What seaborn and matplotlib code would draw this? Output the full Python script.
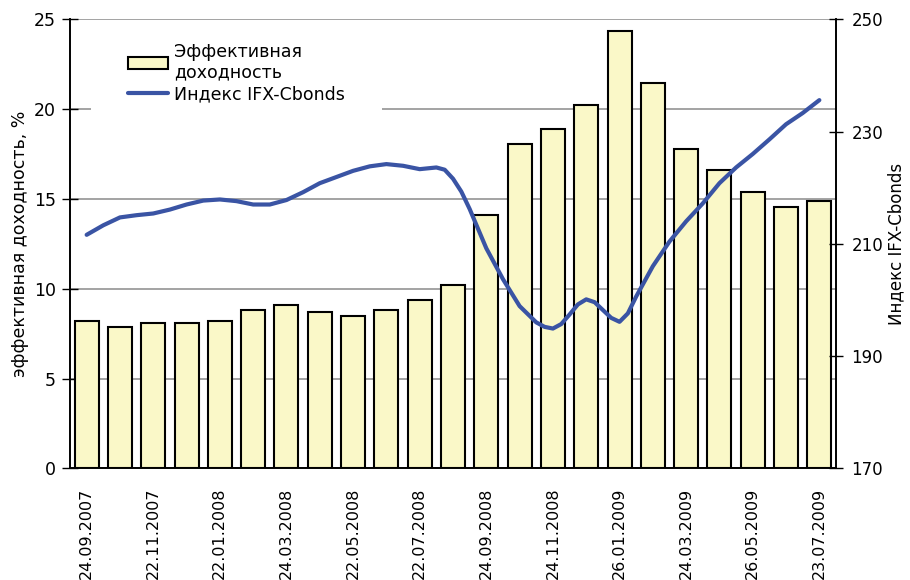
import matplotlib
matplotlib.use("Agg")
import matplotlib.pyplot as plt
import seaborn as sns
import numpy as np
import pandas as pd
from matplotlib.patches import Rectangle, Patch
from matplotlib.lines import Line2D

# ---------------- data ----------------
period = list(range(23))  # bar index (roughly monthly observations)
yields = [8.22, 7.88, 8.07, 8.07, 8.22, 8.83, 9.09, 8.69, 8.50, 8.83, 9.35, 10.2,
          14.12, 18.06, 18.87, 20.25, 24.33, 21.44, 17.78, 16.59, 15.39, 14.55, 14.89]

tick_positions = [0, 2, 4, 6, 8, 10, 12, 14, 16, 18, 20, 22]
tick_labels = ["24.09.2007", "22.11.2007", "22.01.2008", "24.03.2008", "22.05.2008",
               "22.07.2008", "24.09.2008", "24.11.2008", "26.01.2009", "24.03.2009",
               "26.05.2009", "23.07.2009"]

# IFX-Cbonds index (position on the bar-index axis, value)
index_pos = [0, 0.5, 1, 1.5, 2, 2.5, 3, 3.5, 4, 4.5, 5, 5.5, 6, 6.5, 7, 7.5, 8, 8.5,
             9, 9.5, 10, 10.5, 10.75, 11, 11.25, 11.5, 12, 12.5, 13, 13.5, 13.75, 14,
             14.25, 14.5, 14.75, 15, 15.25, 15.5, 15.75, 16, 16.25, 16.5, 17, 17.5,
             18, 18.5, 19, 19.5, 20, 20.5, 21, 21.5, 22]
index_values = [211.6, 213.3, 214.7, 215.1, 215.4, 216.1, 217.0, 217.7, 217.9, 217.6,
                217.0, 217.0, 217.8, 219.2, 220.8, 221.9, 223.0, 223.8, 224.2, 223.9,
                223.3, 223.6, 223.2, 221.6, 219.3, 216.2, 209.2, 203.7, 198.9, 196.0,
                195.2, 194.9, 195.7, 197.4, 199.2, 200.1, 199.6, 198.2, 196.8, 196.1,
                197.6, 200.6, 206.0, 210.4, 214.0, 217.2, 220.8, 223.6, 226.0, 228.6,
                231.3, 233.3, 235.6]

bar_color = "#FAF8C8"
line_color = "#3A54A4"
grid_color = "#9C9C9C"

# ---------------- figure ----------------
sns.set_theme(style="white")
plt.rcParams["font.family"] = ["DejaVu Sans"]
plt.rcParams["text.color"] = "black"
plt.rcParams["axes.labelcolor"] = "black"
plt.rcParams["xtick.color"] = "black"
plt.rcParams["ytick.color"] = "black"

fig = plt.figure(figsize=(9.1, 5.8), dpi=100)
ax = fig.add_axes([70 / 910, 1 - 468.3 / 580, 766 / 910, 449 / 580])

df = pd.DataFrame({"period": period, "yield": yields})
sns.barplot(data=df, x="period", y="yield", color=bar_color, saturation=1,
            edgecolor="black", linewidth=1.5, width=0.72, ax=ax, zorder=2)

ax.set_ylim(0, 25)
ax.set_yticks(range(0, 26, 5))
ax.yaxis.grid(True, color=grid_color, linewidth=1.3)
ax.xaxis.grid(False)
ax.set_axisbelow(True)

ax2 = ax.twinx()
sns.lineplot(x=index_pos, y=index_values, ax=ax2, color=line_color, linewidth=3)
for ln in ax2.get_lines():
    ln.set_solid_joinstyle("round")
    ln.set_solid_capstyle("round")
ax2.set_ylim(170, 250)
ax2.set_yticks(range(170, 251, 20))

ax.set_xlim(-0.5, 22.5)

# x ticks
ax.set_xticks(tick_positions)
ax.set_xticklabels(tick_labels, rotation=90, fontsize=11.5)
ax.set_xticks(np.arange(-0.5, 23, 1.0), minor=True)
ax.tick_params(axis="x", which="major", length=0, pad=14, colors="black")
ax.tick_params(axis="x", which="minor", length=7, width=1, direction="out", color="black")

# y ticks
ax.tick_params(axis="y", which="major", direction="inout", length=12, width=1,
               labelsize=12.5, pad=4, colors="black", left=True)
ax2.tick_params(axis="y", which="major", direction="inout", length=10, width=1,
                labelsize=12, pad=6, colors="black", right=True)

ax.set_xlabel("")
ax.set_ylabel("эффективная доходность, %", fontsize=12.5, labelpad=4, color="black")
ax2.set_xlabel("")
ax2.set_ylabel("Индекс IFX-Cbonds", fontsize=12, labelpad=3, color="black")

for a in (ax, ax2):
    a.spines["top"].set_visible(False)
    for s in ("left", "right", "bottom"):
        a.spines[s].set_color("black")
        a.spines[s].set_linewidth(1.2)

# white legend background area (covers gridline like the original)
ax.add_patch(Rectangle((21 / 766, 0.796), 0.38, 0.19, transform=ax.transAxes,
                       facecolor="white", edgecolor="none", zorder=0.9))

handles = [Patch(facecolor=bar_color, edgecolor="black", linewidth=1.5),
           Line2D([], [], color=line_color, linewidth=3)]
ax2.legend(handles, ["Эффективная\nдоходность", "Индекс IFX-Cbonds"],
           loc="upper left", bbox_to_anchor=((128 - 70) / 766, 0.948),
           frameon=False, fontsize=12.5, handlelength=2.3, handleheight=0.7,
           handletextpad=0.35, borderpad=0, borderaxespad=0, labelspacing=0.2,
           labelcolor="black")

fig.savefig("out.png", dpi=100)
